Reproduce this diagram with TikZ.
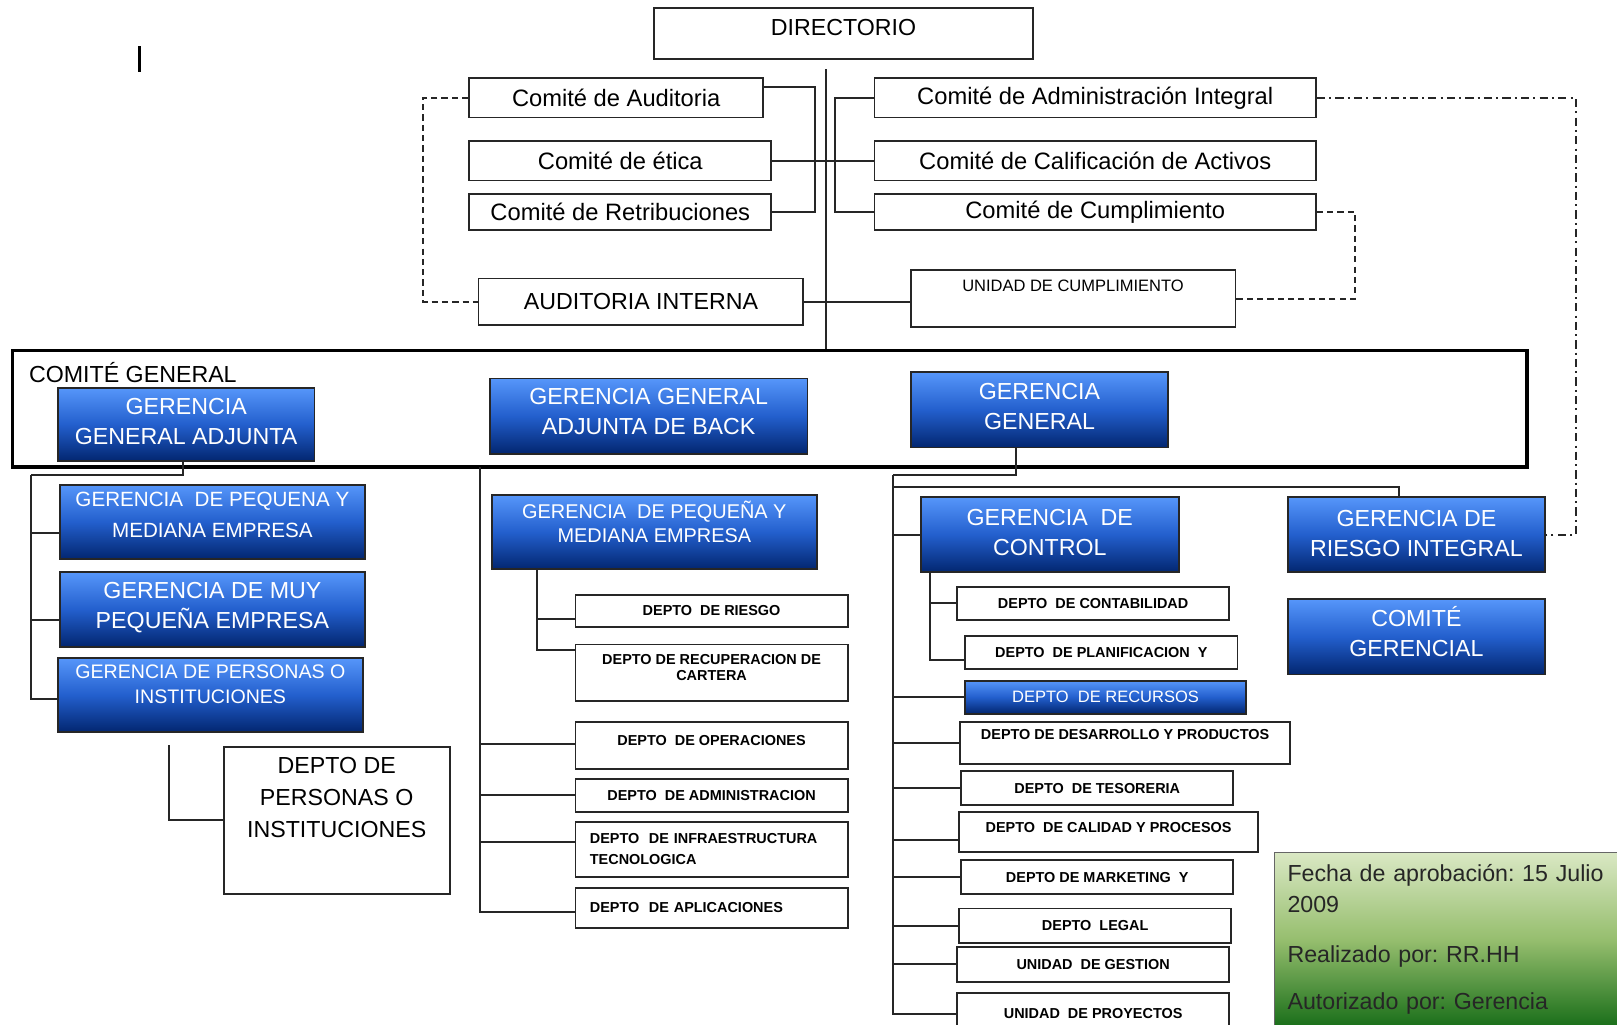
\documentclass[tikz,border=0pt]{standalone}
\usepackage{fontspec}
\setmainfont{Liberation Sans}
\usepackage{tikz}
\newcommand\fz[2]{\fontsize{#1}{#2}\selectfont}
\frenchspacing
\definecolor{bluetop}{RGB}{86,150,250}
\definecolor{bluemid}{RGB}{35,95,205}
\definecolor{bluebot}{RGB}{2,38,112}
\definecolor{greentop}{RGB}{218,232,196}
\definecolor{greenmid}{RGB}{150,190,110}
\definecolor{greenbot}{RGB}{25,110,25}
\tikzset{sz/.style 2 args={minimum width=#1pt,minimum height=#2pt},
  lift/.style={text depth=#1pt},
  wbox/.style={draw=black!85,line width=1.8pt,fill=white,inner sep=0pt,align=center,font=\fz{22.5}{29}},
  bbox/.style={draw=black!85,line width=1.8pt,top color=bluetop,bottom color=bluebot,middle color=bluemid,
    text=white,inner sep=0pt,align=center,font=\fz{22.5}{29}},
  dept/.style={wbox,font=\bfseries\fz{14}{16}},
  link/.style={line width=1.9pt,black!85},
  dline/.style={link,dash pattern=on 6pt off 4pt},
  ddline/.style={link,dash pattern=on 8pt off 4pt on 2pt off 4pt}}

\begin{document}
\begin{tikzpicture}[x=1pt,y=-1pt]
\path[use as bounding box,fill=white] (0,0) rectangle (1568,993);

\draw[line width=3pt] (135,45) -- (135,70);

\node[wbox,sz={368}{49},lift=11] (dir) at (818,32.5) {DIRECTORIO};
\node[wbox,sz={285}{38},font=\fz{23}{29}] (caud) at (597.5,95) {Comité de Auditoria};
\node[wbox,sz={293}{38},font=\fz{23}{29}] (ceti) at (601.5,156) {Comité de ética};
\node[wbox,sz={293}{35},font=\fz{23}{29}] (cret) at (601.5,205.5) {Comité de Retribuciones};
\node[wbox,sz={428}{38},font=\fz{23}{29}] (cadm) at (1062,95) {Comité de Administración Integral};
\node[wbox,sz={428}{38},font=\fz{23}{29}] (ccal) at (1062,156) {Comité de Calificación de Activos};
\node[wbox,sz={428}{35},font=\fz{23}{29}] (ccum) at (1062,205.5) {Comité de Cumplimiento};
\node[wbox,sz={315}{45}] (audi) at (621.5,292.5) {AUDITORIA INTERNA};
\node[wbox,sz={315}{55},font=\fz{16}{18},lift=25] (ucum) at (1040.5,289.5) {UNIDAD DE CUMPLIMIENTO};

\node[draw,line width=3.5pt,sz={1469}{113}] (cg) at (746.5,396.5) {};
\node[anchor=base west,inner sep=0pt,font=\fz{22.5}{27}] (cgt) at (28,371) {COMITÉ GENERAL};
\node[bbox,sz={249}{71},lift=5] (gga) at (180.5,411.5) {GERENCIA\\GENERAL ADJUNTA};
\node[bbox,sz={308}{73},lift=9] (ggab) at (629,403.5) {GERENCIA GENERAL\\ADJUNTA DE BACK};
\node[bbox,sz={250}{73},lift=7] (gg) at (1008,397.5) {GERENCIA\\GENERAL};

\node[bbox,sz={296}{72},lift=14,font=\fz{20}{30}] (gpyme) at (206,506) {GERENCIA~~DE PEQUENA Y\\MEDIANA EMPRESA};
\node[bbox,sz={296}{72},lift=8] (gmuy) at (206,591) {GERENCIA DE MUY\\PEQUEÑA EMPRESA};
\node[bbox,sz={296}{72},lift=21,font=\fz{19}{25}] (gper) at (204,674) {GERENCIA DE PERSONAS O\\INSTITUCIONES};
\node[wbox,sz={219}{143},lift=45,font=\fz{22.5}{31}] (dper) at (326.5,795.5) {DEPTO DE\\PERSONAS O\\INSTITUCIONES};

\node[bbox,sz={315}{72},lift=20,font=\fz{19.3}{24}] (gpyme2) at (634.5,516) {GERENCIA~~DE PEQUEÑA Y\\MEDIANA EMPRESA};
\node[dept,sz={264}{31}] (driesgo) at (690,592.5) {DEPTO~~DE RIESGO};
\node[dept,sz={264}{55},lift=11] (drecup) at (690,652.5) {DEPTO DE RECUPERACION DE\\CARTERA};
\node[dept,sz={264}{46},lift=10] (doper) at (690,723) {DEPTO~~DE OPERACIONES};
\node[dept,sz={264}{32}] (dadm) at (690,771) {DEPTO~~DE ADMINISTRACION};
\node[dept,sz={264}{53},align=left,text width=236pt,font=\bfseries\fz{14}{20}] (dinfra) at (690,823.5) {DEPTO~~DE INFRAESTRUCTURA\\TECNOLOGICA};
\node[dept,sz={264}{39},align=left,text width=236pt] (daplic) at (690,880.5) {DEPTO~~DE APLICACIONES};

\node[bbox,sz={250}{73},lift=5] (gctrl) at (1018,518.5) {GERENCIA~~DE\\CONTROL};
\node[bbox,sz={249}{73},lift=3] (griesgo) at (1373.5,518.5) {GERENCIA DE\\RIESGO INTEGRAL};
\node[bbox,sz={249}{73},lift=10] (cger) at (1373.5,617.5) {COMITÉ\\GERENCIAL};
\node[dept,sz={264}{32}] (dcont) at (1060,585) {DEPTO~~DE CONTABILIDAD};
\node[dept,sz={264}{32}] (dplan) at (1068,633) {DEPTO~~DE PLANIFICACION~~Y};
\node[bbox,sz={272}{32},font=\fz{16}{18}] (drecur) at (1072,676) {DEPTO~~DE RECURSOS};
\node[dept,sz={320}{41},lift=17] (ddes) at (1091,720.5) {DEPTO DE DESARROLLO Y PRODUCTOS};
\node[dept,sz={264}{33}] (dtes) at (1064,764.5) {DEPTO~~DE TESORERIA};
\node[dept,sz={290}{39},lift=9] (dcal) at (1075,806.5) {DEPTO~~DE CALIDAD Y PROCESOS};
\node[dept,sz={264}{33}] (dmkt) at (1064,850.5) {DEPTO DE MARKETING~~Y};
\node[dept,sz={264}{33}] (dleg) at (1062,897.5) {DEPTO~~LEGAL};
\node[dept,sz={264}{34}] (ugest) at (1060,935) {UNIDAD~~DE GESTION};
\node[dept,sz={264}{40}] (uproy) at (1060,983) {UNIDAD~~DE PROYECTOS};

\node[anchor=north west,draw=black!60,line width=1pt,top color=greentop,bottom color=greenbot,middle color=greenmid,
  text width=315pt,inner xsep=13pt,inner ysep=12pt,align=left,text=black!85,font=\fz{22.5}{30}] (nota) at (1235,826)
  {Fecha de aprobación: 15 Julio\\2009\\[18pt]Realizado por: RR.HH\\[16pt]Autorizado por: Gerencia};

\coordinate (dtop) at (801,67);
\coordinate (lspine) at (30,461);
\coordinate (dptop) at (164,722);
\coordinate (mtop) at (465,453);
\coordinate (mbr) at ([xshift=-113.5pt]gpyme2.south);
\coordinate (rspine) at (866,461);
\coordinate (rsplit) at (866,472);
\coordinate (cbr) at ([xshift=-116pt]gctrl.south);

\draw[link] (dtop) -- (dtop |- cg.north);
\draw[link] ([yshift=11pt]caud.east) -| ([xshift=41pt]cret.east) -- (cret.east);
\draw[link] (ceti.east) -- (ccal.west);
\draw[link] (cadm.west) -| ([xshift=-37pt]ccum.west) -- (ccum.west);
\draw[ddline] (cadm.east) -| ([xshift=29pt]griesgo.east) -- (griesgo.east);
\draw[dline] (ccum.east) -| ([xshift=115pt]ucum.east) -- (ucum.east);
\draw[dline] (caud.west) -| ([xshift=-53pt]audi.west) -- (audi.west);
\draw[link] (audi.east) -- (audi.east -| ucum.west);

\draw[link] ([xshift=-3pt]gga.south) |- (lspine);
\draw[link] ([yshift=-11pt]gpyme.west) -| (lspine);
\draw[link] ([yshift=-10pt]gmuy.west) -| (lspine);
\draw[link] ([yshift=-4pt]gper.west) -| (lspine);
\draw[link] (dper.west) -| (dptop);

\draw[link] ([yshift=2pt]doper.west) -| (mtop);
\draw[link] (dadm.west) -| (mtop);
\draw[link] ([yshift=7pt]dinfra.west) -| (mtop);
\draw[link] ([yshift=-4pt]daplic.west) -| (mtop);
\draw[link] ([yshift=-8pt]driesgo.west) -| (mbr);
\draw[link] ([yshift=22pt]drecup.west) -| (mbr);

\draw[link] ([xshift=-23pt]gg.south) |- (rspine);
\draw[link] ([xshift=-17pt]griesgo.north) |- (rsplit);
\draw[link] (gctrl.west) -| (rspine);
\draw[link] (drecur.west) -| (rspine);
\draw[link] (ddes.west) -| (rspine);
\draw[link] (dtes.west) -| (rspine);
\draw[link] ([yshift=-8pt]dcal.west) -| (rspine);
\draw[link] (dmkt.west) -| (rspine);
\draw[link] (dleg.west) -| (rspine);
\draw[link] (ugest.west) -| (rspine);
\draw[link] (uproy.west) -| (rspine);
\draw[link] (dcont.west) -| (cbr);
\draw[link] ([yshift=-7pt]dplan.west) -| (cbr);
\end{tikzpicture}
\end{document}
